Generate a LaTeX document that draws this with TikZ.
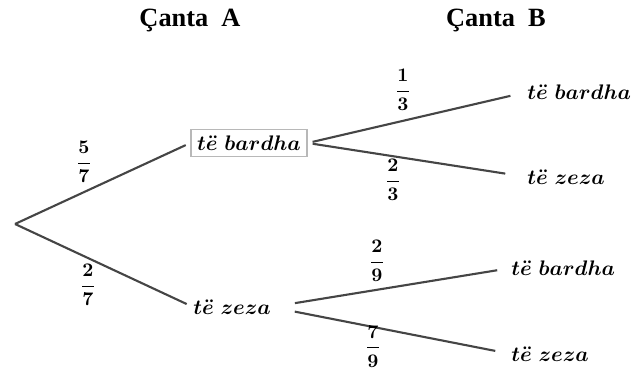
\documentclass[tikz,border=0pt]{standalone}
\usepackage{amsmath}
\usepackage{amssymb}
\usepackage{fontspec}
\newfontfamily\headfont{Liberation Serif}
\usetikzlibrary{arrows}
\definecolor{branchgray}{HTML}{454545}
\definecolor{boxgray}{HTML}{B8B8B8}
\newcommand{\ballname}[1]{$\boldsymbol{#1}$}
\newcommand{\probfrac}[2]{$\boldsymbol{\dfrac{#1}{#2}}$}

\begin{document}
\begin{tikzpicture}[
        branch/.style={line width=1.2pt, draw=branchgray},
        ball/.style={font=\large, inner sep=0pt, anchor=west},
        prob/.style={font=\fontsize{11}{13}\selectfont, inner sep=0pt},
        head/.style={font=\headfont\bfseries\fontsize{15}{18}\selectfont}]

        \useasboundingbox (0,0) rectangle (12.68,7.4);

        \node (headA) at (3.8,6.99) [head] {Çanta\ \ A};
        \node (headB) at (9.92,6.99) [head] {Çanta\ \ B};

        \coordinate (root) at (0.3,2.92);
        \node (wA) at (4.98,4.54) [font=\large, draw=boxgray, line width=0.8pt, inner sep=3.5pt] {\ballname{t\ddot{e}\ bardha}};
        \node (zA) at (3.86,1.26) [ball] {\ballname{t\ddot{e}\ zeza}};

        \node (wAw) at (10.54,5.56) [ball] {\ballname{t\ddot{e}\ bardha}};
        \node (wAz) at (10.54,3.86) [ball] {\ballname{t\ddot{e}\ zeza}};
        \node (zAw) at (10.22,2.04) [ball] {\ballname{t\ddot{e}\ bardha}};
        \node (zAz) at (10.22,0.32) [ball] {\ballname{t\ddot{e}\ zeza}};

        \draw[branch, shorten >=0.1cm] (root) to (wA.west);
        \draw[branch, shorten >=0.14cm] (root) to (zA.west);
        \draw[branch, shorten <=0.1cm, shorten >=0.34cm] (wA.east) to (wAw.west);
        \draw[branch, shorten <=0.1cm, shorten >=0.44cm] (wA.east) to (wAz.west);
        \draw[branch, shorten <=0.48cm, shorten >=0.28cm] (zA.east) to (zAw.west);
        \draw[branch, shorten <=0.48cm, shorten >=0.32cm] (zA.east) to (zAz.west);

        \node (p57) at (1.68,4.16) [prob] {\probfrac{5}{7}};
        \node (p27) at (1.76,1.70) [prob] {\probfrac{2}{7}};
        \node (p13) at (8.06,5.60) [prob] {\probfrac{1}{3}};
        \node (p23) at (7.86,3.80) [prob] {\probfrac{2}{3}};
        \node (p29) at (7.54,2.18) [prob] {\probfrac{2}{9}};
        \node (p79) at (7.46,0.47) [prob] {\probfrac{7}{9}};
       %\draw (0,0) rectangle (12.68,7.4);
\end{tikzpicture}
\end{document}
